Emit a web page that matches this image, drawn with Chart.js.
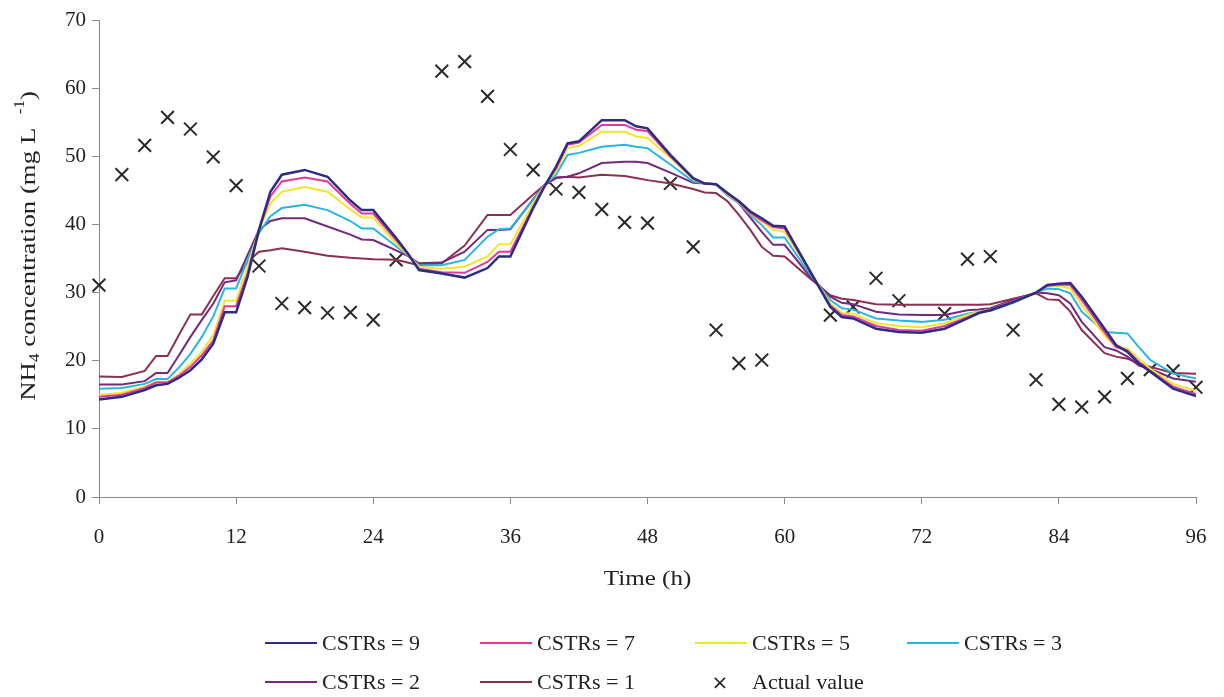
<!DOCTYPE html>
<html>
  <head>
    <title>NH4 concentration</title>
    <script src="https://cdn.jsdelivr.net/npm/chart.js"></script>
    <style>
      body {
        margin: 0;
        background: #ffffff;
      }
      .wrap {
        position: relative;
        width: 1224px;
        height: 697px;
      }
      .legend {
        position: absolute;
        left: 0;
        top: 0;
        width: 1224px;
        height: 697px;
        pointer-events: none;
        font-family: "Liberation Serif", serif;
        font-size: 22px;
        color: #222;
      }
      .legend .item {
        position: absolute;
        display: flex;
        align-items: center;
        white-space: nowrap;
        transform: translateY(-50%);
      }
      .legend .swatch {
        display: inline-block;
        width: 52px;
        margin-right: 5px;
      }
      .legend .mark {
        display: inline-block;
        width: 20px;
        margin-right: 22px;
        text-align: center;
        font-family: "DejaVu Sans", sans-serif;
        font-size: 20px;
      }
    </style>
  </head>

  <body>
    <div class="wrap">
      <canvas id="myChart"></canvas>
      <div class="legend" id="legend"></div>
    </div>

    <script>
      // model output, shared time grid (h)
      const hours = [0, 2, 4, 5, 6, 7, 8, 9, 10, 11, 12, 13, 14, 15, 16,
        18, 20, 22, 23, 24, 26, 27, 28, 30, 32, 34, 35, 36, 38, 39,
        40, 41, 42, 44, 46, 47, 48, 50, 52, 53, 54, 55, 56, 57, 58,
        59, 60, 62, 64, 65, 66, 68, 70, 72, 74, 76, 77, 78, 80, 82,
        83, 84, 85, 86, 88, 89, 90, 91, 92, 94, 96];

      const cstr9 = [14.3, 14.7, 15.7, 16.4, 16.6, 17.5, 18.6, 20.2, 22.5, 27.1, 27.1, 32.3, 39.2, 44.8, 47.3,
        48.0, 47.0, 43.5, 42.1, 42.1, 38.0, 35.8, 33.3, 32.8, 32.2, 33.6, 35.3, 35.3, 42.4, 45.6,
        48.5, 51.9, 52.2, 55.3, 55.3, 54.4, 54.1, 50.2, 46.8, 46.0, 45.9, 44.6, 43.4, 41.9, 40.9,
        39.8, 39.7, 33.8, 27.9, 26.4, 26.2, 24.7, 24.2, 24.1, 24.7, 26.2, 27.0, 27.4, 28.6, 30.0,
        31.1, 31.3, 31.4, 29.4, 24.7, 22.3, 21.3, 19.6, 18.4, 15.9, 14.8];
      const cstr7 = [14.7, 15.0, 16.0, 16.8, 16.8, 17.8, 19.1, 20.8, 23.0, 28.0, 28.0, 32.8, 39.2, 44.1, 46.3,
        46.9, 46.3, 43.0, 41.6, 41.6, 37.7, 35.7, 33.5, 33.0, 32.9, 34.5, 36.0, 36.0, 42.6, 45.8,
        48.2, 51.7, 52.0, 54.6, 54.6, 53.9, 53.7, 50.0, 46.7, 46.0, 45.9, 44.5, 43.3, 41.7, 40.6,
        39.6, 39.4, 33.7, 28.1, 26.7, 26.5, 25.1, 24.5, 24.4, 25.1, 26.4, 27.1, 27.5, 28.7, 30.0,
        31.0, 31.2, 31.1, 28.9, 24.2, 22.0, 21.5, 19.8, 18.5, 16.2, 15.1];
      const cstr5 = [15.0, 15.3, 16.2, 16.9, 16.9, 18.0, 19.6, 21.3, 23.8, 28.8, 28.8, 33.8, 39.2, 43.1, 44.8,
        45.5, 44.8, 42.2, 41.0, 41.0, 37.2, 35.6, 33.8, 33.5, 33.8, 35.3, 37.1, 37.1, 43.1, 45.8,
        47.8, 51.2, 51.5, 53.6, 53.6, 52.9, 52.7, 49.8, 46.6, 46.0, 45.9, 44.4, 43.2, 41.6, 40.4,
        39.2, 38.9, 33.7, 28.4, 27.0, 26.9, 25.5, 25.1, 24.9, 25.5, 26.7, 27.2, 27.5, 28.7, 30.0,
        30.9, 31.0, 30.6, 28.2, 23.7, 22.0, 21.8, 20.3, 18.8, 16.6, 15.6];
      const cstr3 = [15.9, 16.0, 16.6, 17.3, 17.3, 19.0, 21.0, 23.5, 26.5, 30.6, 30.6, 34.8, 38.7, 41.2, 42.4,
        42.9, 42.1, 40.5, 39.4, 39.4, 36.8, 35.5, 34.0, 34.0, 34.8, 38.2, 39.3, 39.4, 43.6, 45.8,
        47.3, 50.2, 50.5, 51.4, 51.7, 51.4, 51.2, 48.8, 46.3, 46.0, 45.9, 44.3, 43.1, 41.4, 39.9,
        38.1, 38.1, 33.2, 28.9, 27.7, 27.5, 26.2, 25.9, 25.7, 26.0, 26.9, 27.2, 27.3, 28.5, 30.0,
        30.6, 30.5, 29.9, 27.2, 24.2, 24.1, 24.0, 22.0, 20.1, 18.1, 17.4];
      const cstr2 = [16.5, 16.5, 17.0, 18.2, 18.2, 20.8, 23.5, 26.0, 28.4, 31.5, 31.8, 35.5, 39.2, 40.5, 40.9,
        40.9, 39.7, 38.5, 37.8, 37.7, 36.2, 35.4, 34.3, 34.4, 36.0, 39.2, 39.2, 39.3, 43.7, 45.8,
        46.8, 47.0, 47.5, 49.0, 49.2, 49.2, 49.0, 47.6, 46.1, 46.0, 45.9, 44.3, 43.1, 41.0, 38.9,
        37.0, 37.0, 32.8, 29.4, 28.5, 28.3, 27.2, 26.8, 26.7, 26.7, 27.4, 27.5, 27.7, 28.9, 30.0,
        29.9, 29.6, 28.4, 25.7, 22.0, 21.5, 20.6, 19.3, 18.8, 17.4, 16.9];
      const cstr1 = [17.7, 17.6, 18.5, 20.7, 20.7, 23.8, 26.8, 26.8, 29.5, 32.1, 32.1, 34.5, 36.0, 36.2, 36.5,
        36.0, 35.4, 35.1, 35.0, 34.9, 34.8, 34.4, 34.0, 34.3, 36.9, 41.4, 41.4, 41.4, 44.4, 45.8,
        46.9, 47.0, 46.9, 47.3, 47.1, 46.8, 46.5, 46.0, 45.2, 44.7, 44.6, 43.4, 41.4, 39.2, 36.7,
        35.4, 35.3, 32.4, 29.6, 29.1, 28.9, 28.3, 28.2, 28.2, 28.2, 28.2, 28.2, 28.3, 29.1, 29.9,
        29.0, 28.9, 27.2, 24.5, 21.1, 20.6, 20.3, 19.6, 19.1, 18.2, 18.1];

      // measured values
      const sampleHours = [0, 2, 4, 6, 8, 10, 12, 14, 16, 18, 20, 22, 24, 26, 30,
        32, 34, 36, 38, 40, 42, 44, 46, 48, 50, 52, 54, 56, 58, 64,
        66, 68, 70, 74, 76, 78, 80, 82, 84, 86, 88, 90, 92, 94, 96];
      const actual = [31.1, 47.3, 51.6, 55.7, 54.0, 49.9, 45.7, 33.9, 28.4, 27.8, 27.0, 27.1, 26.0, 34.8, 62.5,
        63.9, 58.8, 51.0, 48.0, 45.2, 44.7, 42.2, 40.3, 40.2, 46.0, 36.7, 24.5, 19.6, 20.1, 26.7,
        27.9, 32.1, 28.8, 26.9, 34.9, 35.3, 24.5, 17.2, 13.6, 13.2, 14.7, 17.4, 18.7, 18.5, 16.1];

      const xTicks = [0, 12, 24, 36, 48, 60, 72, 84, 96];

      const FONT = "'Liberation Serif', 'Times New Roman', serif";
      const pair = (xs, ys) => xs.map((x, i) => ({ x: x, y: ys[i] }));

      const modelRuns = [
        { label: "CSTRs = 9", values: cstr9, color: "#2b2d84", width: 2.5 },
        { label: "CSTRs = 7", values: cstr7, color: "#e3379c", width: 2 },
        { label: "CSTRs = 5", values: cstr5, color: "#f3e52e", width: 2 },
        { label: "CSTRs = 3", values: cstr3, color: "#27b6e2", width: 2 },
        { label: "CSTRs = 2", values: cstr2, color: "#742a7c", width: 2 },
        { label: "CSTRs = 1", values: cstr1, color: "#8d2f52", width: 2 },
      ];

      const datasets = modelRuns.map((r) => ({
        type: "line",
        label: r.label,
        data: pair(hours, r.values),
        borderColor: r.color,
        backgroundColor: r.color,
        borderWidth: r.width,
        pointRadius: 0,
        tension: 0,
        fill: false,
      }));
      datasets.push({
        type: "scatter",
        label: "Actual value",
        data: pair(sampleHours, actual),
        pointStyle: "crossRot",
        pointRadius: 9,
        borderColor: "#2a2a2a",
        borderWidth: 2,
        showLine: false,
        clip: false,
      });

      // stretched text along its own direction (the printed labels run wide)
      function wideText(ctx, parts, cx, cy, angle, stretch) {
        let total = 0;
        parts.forEach((p) => {
          ctx.font = p.size + "px " + FONT;
          p.w = ctx.measureText(p.t).width;
          total += p.w;
        });
        ctx.save();
        ctx.translate(cx, cy);
        ctx.rotate(angle);
        ctx.scale(stretch, 1);
        ctx.textAlign = "left";
        ctx.textBaseline = "middle";
        let x = -total / 2;
        parts.forEach((p) => {
          ctx.font = p.size + "px " + FONT;
          ctx.fillText(p.t, x, p.dy || 0);
          x += p.w;
        });
        ctx.restore();
      }

      // axis titles, NH4 label needs sub/superscript so it's drawn by hand
      const axisTitles = {
        id: "axisTitles",
        afterDraw(chart) {
          const ctx = chart.ctx;
          const area = chart.chartArea;
          ctx.save();
          ctx.fillStyle = "#222";
          wideText(ctx, [{ t: "Time (h)", size: 22 }], (area.left + area.right) / 2, 579, 0, 1.14);
          wideText(
            ctx,
            [
              { t: "NH", size: 22 },
              { t: "4", size: 14, dy: 6 },
              { t: " concentration (mg L  ", size: 22 },
              { t: "-1", size: 14, dy: -9 },
              { t: ")", size: 22 },
            ],
            29,
            246,
            -Math.PI / 2,
            1.22
          );
          ctx.restore();
        },
      };

      const config = {
        data: { datasets: datasets },
        options: {
          responsive: true,
          maintainAspectRatio: false,
          animation: false,
          layout: {
            autoPadding: false,
            padding: { left: 0, right: 28, top: 20, bottom: 0 },
          },
          plugins: {
            legend: { display: false },
            tooltip: { enabled: false },
          },
          scales: {
            x: {
              type: "linear",
              min: 0,
              max: 96,
              afterFit: (scale) => {
                scale.height = 200;
                scale.paddingRight = 0;
              },
              afterBuildTicks: (scale) => {
                scale.ticks = xTicks.map((v) => ({ value: v }));
              },
              border: { display: true, color: "#8a8a8a", width: 1 },
              grid: {
                drawOnChartArea: false,
                drawTicks: true,
                tickLength: 7,
                color: "#8a8a8a",
              },
              ticks: {
                padding: 21,
                color: "#222",
                font: { family: FONT, size: 21 },
                maxRotation: 0,
              },
            },
            y: {
              min: 0,
              max: 70,
              afterFit: (scale) => {
                scale.width = 99;
              },
              border: { display: true, color: "#8a8a8a", width: 1 },
              grid: {
                drawOnChartArea: false,
                drawTicks: true,
                tickLength: 7,
                color: "#8a8a8a",
              },
              ticks: {
                stepSize: 10,
                padding: 6,
                color: "#222",
                font: { family: FONT, size: 21 },
              },
            },
          },
        },
        plugins: [axisTitles],
      };

      const myChart = new Chart(document.getElementById("myChart"), config);

      // legend laid out in four columns, two rows
      const legendCols = [265, 480, 695, 907];
      const legendRows = [643, 682];
      const legendEl = document.getElementById("legend");
      const entries = modelRuns.map((r) => ({ label: r.label, color: r.color }));
      entries.push({ label: "Actual value", mark: "\u00d7" });
      entries.forEach((e, i) => {
        const item = document.createElement("div");
        item.className = "item";
        item.style.left = legendCols[i % 4] + "px";
        item.style.top = legendRows[Math.floor(i / 4)] + "px";
        if (e.mark) {
          const m = document.createElement("span");
          m.className = "mark";
          m.textContent = e.mark;
          item.appendChild(m);
          item.style.left = "710px";
        } else {
          const s = document.createElement("span");
          s.className = "swatch";
          s.style.borderTop = "2px solid " + e.color;
          item.appendChild(s);
        }
        const t = document.createElement("span");
        t.textContent = e.label;
        item.appendChild(t);
        legendEl.appendChild(item);
      });
    </script>
  </body>
</html>
